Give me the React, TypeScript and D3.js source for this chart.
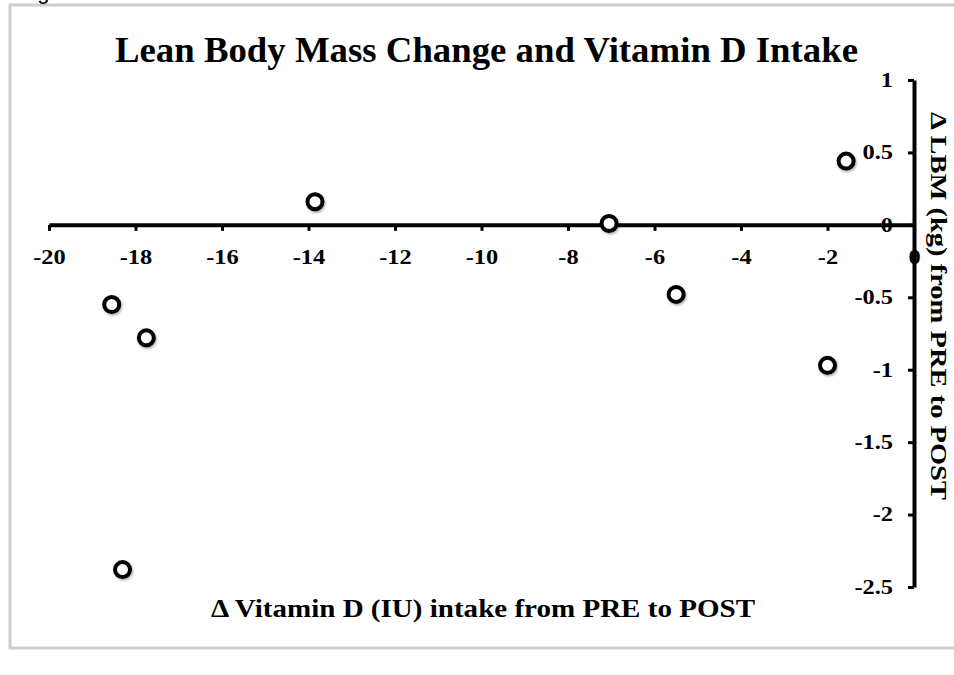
import React, { useEffect, useRef } from 'react';
import * as d3 from 'd3';

// data
const vitaminD = [-18.55, -17.75, -18.3, -13.85, -7.05, -5.5, -2.0, -1.57];
const leanMass = [-0.55, -0.78, -2.38, 0.16, 0.01, -0.48, -0.97, 0.44];
const xTicks = [-20, -18, -16, -14, -12, -10, -8, -6, -4, -2, 0];
const yTicks = [-2.5, -2, -1.5, -1, -0.5, 0, 0.5, 1];

const FONT = "'Liberation Serif', 'Times New Roman', serif";

const App = () => {
  const ref = useRef<SVGSVGElement>(null);

  useEffect(() => {
    const svg = d3.select(ref.current);
    svg.selectAll('*').remove();

    const x = d3.scaleLinear().domain([-20, 0]).range([49, 914]);
    const y = d3.scaleLinear().domain([-2.5, 1]).range([587, 80]);

    const defs = svg.append('defs');
    const f = defs.append('filter').attr('id', 'shadow').attr('x', '-50%').attr('y', '-50%').attr('width', '200%').attr('height', '200%');
    f.append('feDropShadow').attr('dx', 1).attr('dy', 1.5).attr('stdDeviation', 1.2).attr('flood-color', '#000').attr('flood-opacity', 0.35);

    // frame
    svg.append('rect')
      .attr('x', 10).attr('y', 5).attr('width', 960).attr('height', 643)
      .attr('fill', '#fff').attr('stroke', '#cdcdcd').attr('stroke-width', 3);

    // caption above the frame, cut off like in the source
    svg.append('text')
      .attr('x', 19).attr('y', -1.5)
      .attr('font-family', "'Liberation Sans', Arial, sans-serif")
      .attr('font-size', 22)
      .text('Figure');

    svg.append('text')
      .attr('x', 486.5).attr('y', 62)
      .attr('text-anchor', 'middle')
      .attr('font-family', FONT).attr('font-weight', 'bold').attr('font-size', 36)
      .attr('textLength', 743).attr('lengthAdjust', 'spacingAndGlyphs')
      .text('Lean Body Mass Change and Vitamin D Intake');

    // tick labels in the source are a bit wider than plain Times bold
    const stretch = (sel) => {
      sel.selectAll('text')
        .attr('font-family', FONT).attr('font-weight', 'bold').attr('font-size', 20).attr('fill', '#000')
        .each(function () {
          const t = this as SVGTextElement;
          t.setAttribute('textLength', String(t.getComputedTextLength() * 1.22));
          t.setAttribute('lengthAdjust', 'spacingAndGlyphs');
        });
    };

    const gx = svg.append('g')
      .attr('transform', `translate(0,${y(0)})`)
      .call(d3.axisBottom(x).tickValues(xTicks).tickFormat(d => String(d)).tickSize(6).tickSizeOuter(0).tickPadding(19));
    gx.select('.domain').attr('stroke', '#000').attr('stroke-width', 4);
    gx.selectAll('.tick line').attr('stroke', '#000').attr('stroke-width', 3);
    stretch(gx);

    const gy = svg.append('g')
      .attr('transform', `translate(${x(0)},0)`)
      .call(d3.axisLeft(y).tickValues(yTicks).tickFormat(d => String(d)).tickSize(6).tickSizeOuter(0).tickPadding(15));
    gy.select('.domain').attr('stroke', '#000').attr('stroke-width', 4);
    gy.selectAll('.tick line').attr('stroke', '#000').attr('stroke-width', 3);
    stretch(gy);

    svg.append('text')
      .attr('x', 483).attr('y', 617)
      .attr('text-anchor', 'middle')
      .attr('font-family', FONT).attr('font-weight', 'bold').attr('font-size', 26)
      .attr('textLength', 544).attr('lengthAdjust', 'spacingAndGlyphs')
      .text('\u0394  Vitamin D (IU) intake from PRE to POST');

    svg.append('text')
      .attr('transform', 'translate(931,306) rotate(90)')
      .attr('text-anchor', 'middle')
      .attr('font-family', FONT).attr('font-weight', 'bold').attr('font-size', 24)
      .attr('textLength', 388).attr('lengthAdjust', 'spacingAndGlyphs')
      .text('\u0394 LBM (kg) from PRE to POST');

    svg.append('g')
      .selectAll('circle')
      .data(vitaminD)
      .enter()
      .append('circle')
      .attr('cx', d => x(d))
      .attr('cy', (d, i) => y(leanMass[i]))
      .attr('r', 7.5)
      .attr('fill', '#fff')
      .attr('stroke', '#000')
      .attr('stroke-width', 4)
      .attr('filter', 'url(#shadow)');
  }, []);

  return (
    <svg ref={ref} width={954} height={675} style={{ position: 'absolute', left: 0, top: 0, background: '#fff' }}></svg>
  );
};

export default App;
